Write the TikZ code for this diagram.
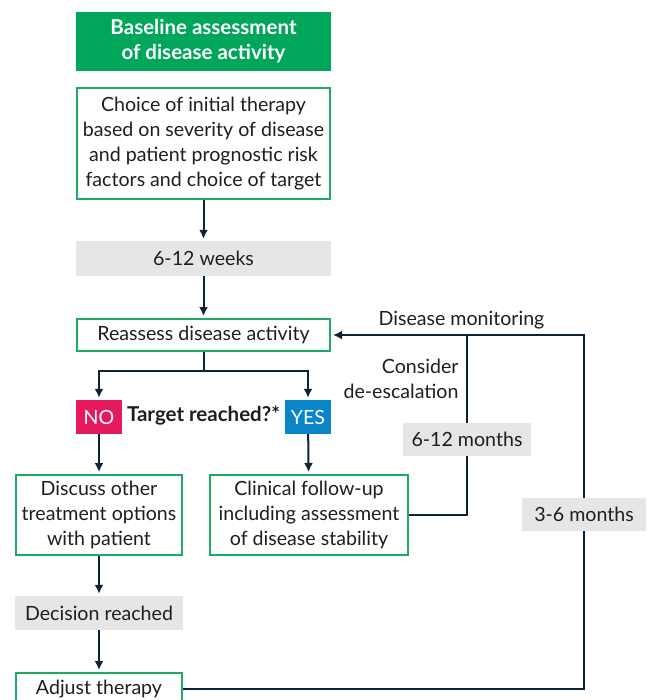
\documentclass[tikz,border=0pt]{standalone}
\usepackage{fontspec}
\setmainfont{Lato}
\usetikzlibrary{positioning,arrows.meta}

\definecolor{boxgreen}{RGB}{0,166,90}
\definecolor{edgegreen}{RGB}{30,170,100}
\definecolor{lightgrey}{RGB}{230,230,230}
\definecolor{nored}{RGB}{229,25,94}
\definecolor{yesblue}{RGB}{10,133,200}
\definecolor{navy}{RGB}{13,35,54}
\definecolor{ink}{RGB}{30,30,30}

\tikzset{
  txt/.style={font=\fontsize{19.6}{25}\selectfont, text=ink, align=center},
  boldtxt/.style={font=\fontsize{20.5}{25}\selectfont\bfseries},
  greenbox/.style={txt, draw=edgegreen, line width=2pt, inner sep=0pt},
  greybox/.style={txt, fill=lightgrey, inner sep=0pt},
  flagbox/.style={txt, text=white, inner sep=0pt, minimum width=46, minimum height=34},
  arr/.style={draw=navy, line width=2pt, -{Latex[length=9pt,width=9pt]}, shorten >=2pt},
  link/.style={draw=navy, line width=2pt},
}

\begin{document}
\begin{tikzpicture}[x=1pt,y=-1pt]
  \useasboundingbox (0,0) rectangle (646,700);
  \clip (0,0) rectangle (646,700);
  % left column
  \node[txt, boldtxt, fill=boxgreen, text=white,
        minimum width=255, minimum height=59, inner sep=0pt] (base) at (203.5,41.5)
        {Baseline assessment\\of disease activity};
  \node[greenbox, minimum width=253, minimum height=111] (choice) at (203.5,143.5)
        {Choice of initial therapy\\based on severity of disease\\and patient prognostic risk\\factors and choice of target};
  \node[greybox, minimum width=255, minimum height=35] (weeks) at (203.5,258.5) {6-12 weeks};
  \node[greenbox, minimum width=253, minimum height=32] (reassess) at (203.5,335) {Reassess disease activity};
  \node[flagbox, fill=nored] (no) at (99,417) {NO};
  \node[flagbox, fill=yesblue] (yes) at (308,417) {YES};
  \node[txt, boldtxt] (target) at (203.5,416) {Target reached?*};
  \node[greenbox, minimum width=166, minimum height=80] (discuss) at (99,515)
        {Discuss other\\treatment options\\with patient};
  \node[greenbox, minimum width=198, minimum height=80] (clinical) at (309,515)
        {Clinical follow-up\\including assessment\\of disease stability};
  \node[greybox, minimum width=168, minimum height=34] (decision) at (99,613) {Decision reached};
  \node[greenbox, minimum width=166, minimum height=32] (adjust) at (99,689) {Adjust therapy};

  \draw[arr] (choice) -- (weeks);
  \draw[arr] (weeks) -- (reassess);
  \draw[arr] (reassess.south) -- ++(0,19) -| (no);
  \draw[arr] (reassess.south) -- ++(0,19) -| (yes);
  \draw[arr] (no) -- (discuss);
  \draw[arr] (yes) -- (clinical);
  \draw[arr] (discuss) -- (decision);
  \draw[arr] (decision) -- (adjust);

  % monitoring loops
  \coordinate (loop) at (584,335);
  \coordinate (deesc) at (467,335);
  \draw[arr] (adjust.east) -| (loop) -- (reassess.east);
  \draw[link] (clinical.east) -| (deesc);
  \node[greybox, minimum width=128, minimum height=33] (months612) at (467,439.5) {6-12 months};
  \node[greybox, minimum width=124, minimum height=33] (months36) at (584,514.5) {3-6 months};
  \node[txt] (monitor) at (461.5,320) {Disease monitoring};
  \node[txt, align=right, anchor=east] (consider) at (462,379) {Consider\\de-escalation};
\end{tikzpicture}
\end{document}
